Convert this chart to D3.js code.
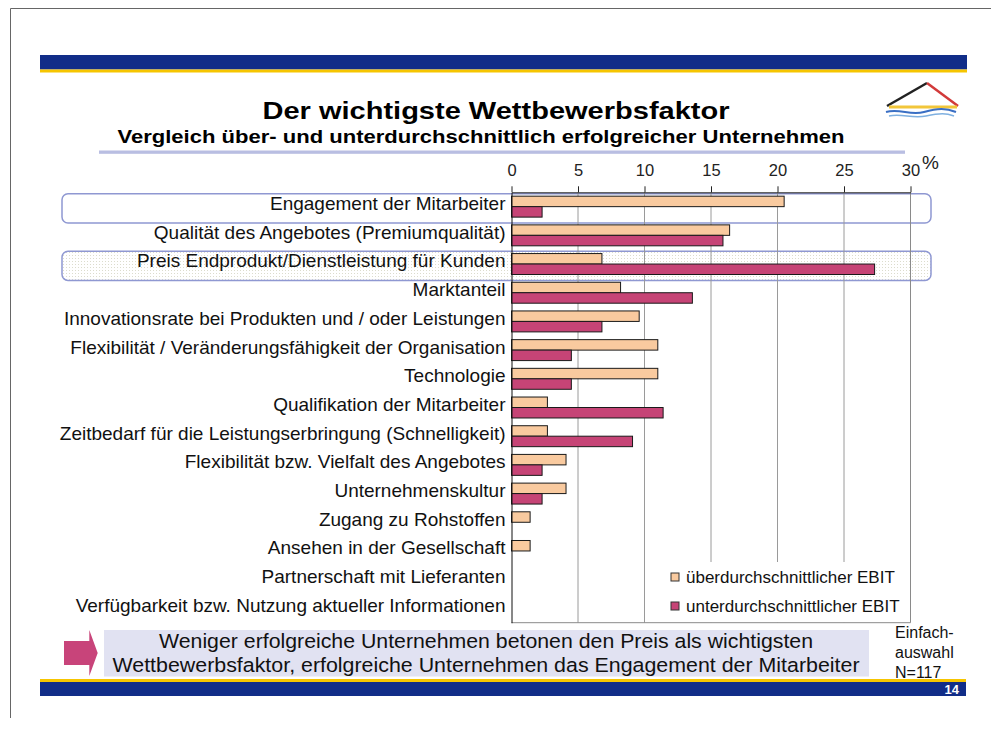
<!DOCTYPE html>
<html>
<head>
<meta charset="utf-8">
<script src="https://cdn.jsdelivr.net/npm/d3@7"></script>
<style>
  body { margin: 0; background: #fff; }
  svg { display: block; font-family: "Liberation Sans", Arial, sans-serif; }
</style>
</head>
<body>
<svg width="991" height="729"></svg>
<script>
// chart data
const categories = [
    "Engagement der Mitarbeiter",
    "Qualität des Angebotes (Premiumqualität)",
    "Preis Endprodukt/Dienstleistung für Kunden",
    "Marktanteil",
    "Innovationsrate bei Produkten und / oder Leistungen",
    "Flexibilität / Veränderungsfähigkeit der Organisation",
    "Technologie",
    "Qualifikation der Mitarbeiter",
    "Zeitbedarf für die Leistungserbringung (Schnelligkeit)",
    "Flexibilität bzw. Vielfalt des Angebotes",
    "Unternehmenskultur",
    "Zugang zu Rohstoffen",
    "Ansehen in der Gesellschaft",
    "Partnerschaft mit Lieferanten",
    "Verfügbarkeit bzw. Nutzung aktueller Informationen"
]
const aboveAvg = [20.5, 16.4, 6.8, 8.2, 9.6, 11.0, 11.0, 2.7, 2.7, 4.1, 4.1, 1.4, 1.4, 0, 0]
const belowAvg = [2.3, 15.9, 27.3, 13.6, 6.8, 4.5, 4.5, 11.4, 9.1, 2.3, 2.3, 0, 0, 0, 0]
const seriesNames = ["überdurchschnittlicher EBIT", "unterdurchschnittlicher EBIT"]
const seriesColors = ["#f9ca9f", "#c64476"]
const xTicks = [0, 5, 10, 15, 20, 25, 30]
const highlighted = ["Engagement der Mitarbeiter", "Preis Endprodukt/Dienstleistung für Kunden"]

const title = "Der wichtigste Wettbewerbsfaktor"
const subtitle = "Vergleich über- und unterdurchschnittlich erfolgreicher Unternehmen"
const conclusion = [
    "Weniger erfolgreiche Unternehmen betonen den Preis als wichtigsten",
    "Wettbewerbsfaktor, erfolgreiche Unternehmen das Engagement der Mitarbeiter"
]
const note = ["Einfach-", "auswahl", "N=117"]
const pageNo = "14"

const svg = d3.select("svg")
const navy = "#112d88"
const gold = "#f6c500"

// page frame
svg.append("path")
    .attr("d", "M10.5,718 V8.5 H991")
    .attr("fill", "none")
    .attr("stroke", "#666")
    .attr("stroke-width", 1)

// header + footer bands
svg.append("rect").attr("x", 40).attr("y", 55).attr("width", 927).attr("height", 14.5).attr("fill", navy)
svg.append("rect").attr("x", 40).attr("y", 69.5).attr("width", 927).attr("height", 3).attr("fill", gold)
svg.append("rect").attr("x", 40).attr("y", 679).attr("width", 926).attr("height", 3).attr("fill", gold)
svg.append("rect").attr("x", 40).attr("y", 682).attr("width", 926).attr("height", 14).attr("fill", navy)
svg.append("text")
    .attr("x", 959).attr("y", 694)
    .attr("text-anchor", "end")
    .attr("font-size", 13).attr("font-weight", "bold")
    .attr("fill", "#fff")
    .text(pageNo)

// logo
let logo = svg.append("g")
logo.append("path").attr("d", "M887,106 L927,83").attr("stroke", "#222").attr("stroke-width", 2.5).attr("fill", "none")
logo.append("path").attr("d", "M927,83 L958,106").attr("stroke", "#d23a3a").attr("stroke-width", 2.5).attr("fill", "none")
logo.append("path").attr("d", "M889,107 H957").attr("stroke", "#f2c63a").attr("stroke-width", 3).attr("fill", "none")
logo.append("path").attr("d", "M886,112 C900,108 910,116 924,112 S946,108 956,112").attr("stroke", "#3a6fc4").attr("stroke-width", 2).attr("fill", "none")
logo.append("path").attr("d", "M889,116 C902,113 912,119 926,116 S946,113 954,116").attr("stroke", "#7fb0e0").attr("stroke-width", 1.5).attr("fill", "none")

// titles
svg.append("text")
    .attr("x", 496).attr("y", 119)
    .attr("text-anchor", "middle")
    .attr("font-size", 23.5).attr("font-weight", "bold")
    .attr("textLength", 467).attr("lengthAdjust", "spacingAndGlyphs")
    .text(title)
svg.append("text")
    .attr("x", 481).attr("y", 142.5)
    .attr("text-anchor", "middle")
    .attr("font-size", 17.5).attr("font-weight", "bold")
    .attr("textLength", 727).attr("lengthAdjust", "spacingAndGlyphs")
    .text(subtitle)
svg.append("rect").attr("x", 99).attr("y", 150.5).attr("width", 806).attr("height", 3.3).attr("fill", "#b9bee2")

// scales
const x = d3.scaleLinear().domain([0, 30]).range([511.5, 910.5])
const y = d3.scaleBand().domain(categories).range([192.3, 622.7]).paddingInner(0.27).paddingOuter(0.135)
const ySub = d3.scaleBand().domain(seriesNames).range([0, y.bandwidth()])

// dotted pattern for the price box
let defs = svg.append("defs")
let pat = defs.append("pattern")
    .attr("id", "dots")
    .attr("width", 3).attr("height", 3)
    .attr("patternUnits", "userSpaceOnUse")
pat.append("rect").attr("width", 3).attr("height", 3).attr("fill", "#fff")
pat.append("rect").attr("width", 1).attr("height", 1).attr("fill", "#dcdccd")

// highlight boxes
svg.append("g").selectAll("rect")
    .data(highlighted)
    .enter().append("rect")
    .attr("x", 62)
    .attr("y", d => y(d) - y.step() * y.paddingOuter() + 1.5)
    .attr("width", 869)
    .attr("height", y.step() + 0.5)
    .attr("rx", 6)
    .attr("fill", (d, i) => i === 1 ? "url(#dots)" : "#fff")
    .attr("stroke", "#8f98d2")
    .attr("stroke-width", 1.5)

// grid
svg.append("g").selectAll("line")
    .data(xTicks.slice(1, -1))
    .enter().append("line")
    .attr("x1", d => x(d)).attr("x2", d => x(d))
    .attr("y1", y.range()[0]).attr("y2", y.range()[1])
    .attr("stroke", "#9a9a9a")
    .attr("stroke-width", 1)

// legend box hides part of the grid
svg.append("rect")
    .attr("x", 656).attr("y", 562)
    .attr("width", x(30) - 656).attr("height", y.range()[1] - 562)
    .attr("fill", "#fff")

// plot frame
svg.append("line")
    .attr("x1", x(30)).attr("x2", x(30))
    .attr("y1", y.range()[0]).attr("y2", y.range()[1])
    .attr("stroke", "#8a8a8a")
svg.append("line")
    .attr("x1", x(0)).attr("x2", x(30))
    .attr("y1", y.range()[1]).attr("y2", y.range()[1])
    .attr("stroke", "#8a8a8a")

// bars
const rows = categories.map((c, i) => ({ cat: c, values: [aboveAvg[i], belowAvg[i]] }))
let groups = svg.append("g")
    .selectAll("g")
    .data(rows)
    .enter().append("g")
    .attr("transform", d => `translate(0,${y(d.cat)})`)

groups.selectAll("rect")
    .data(d => d.values.map((v, k) => ({ v: v, s: seriesNames[k], k: k })).filter(e => e.v > 0))
    .enter().append("rect")
    .attr("x", x(0))
    .attr("y", d => ySub(d.s))
    .attr("width", d => x(d.v) - x(0))
    .attr("height", ySub.bandwidth())
    .attr("fill", d => seriesColors[d.k])
    .attr("stroke", "#1a1a1a")
    .attr("stroke-width", 1)

// axes
let xAxis = svg.append("g")
    .attr("transform", `translate(0,${y.range()[0]})`)
    .call(d3.axisTop(x).tickValues(xTicks).tickSize(6).tickPadding(10.6).tickSizeOuter(0))
xAxis.select(".domain").attr("stroke", "#222")
xAxis.selectAll(".tick line").attr("stroke", "#222")
xAxis.selectAll("text")
    .attr("font-family", "Liberation Sans, Arial, sans-serif")
    .attr("font-size", 16.5)
    .attr("fill", "#222")

svg.append("text")
    .attr("x", 922).attr("y", 169)
    .attr("font-size", 19)
    .attr("fill", "#222")
    .text("%")

let yAxis = svg.append("g")
    .attr("transform", `translate(${x(0)},0)`)
    .call(d3.axisLeft(y).tickSize(0).tickPadding(6))
yAxis.select(".domain").attr("stroke", "#111")
yAxis.selectAll("text")
    .attr("font-family", "Liberation Sans, Arial, sans-serif")
    .attr("font-size", 19)
    .attr("fill", "#111")
    .attr("dy", "0.18em")

// legend
let legend = svg.append("g")
    .selectAll("g")
    .data(seriesNames)
    .enter().append("g")
    .attr("transform", (d, i) => `translate(671,${573 + i * 29})`)
legend.append("rect")
    .attr("width", 8).attr("height", 8)
    .attr("fill", (d, i) => seriesColors[i])
    .attr("stroke", "#333")
legend.append("text")
    .attr("x", 15).attr("y", 4)
    .attr("dy", "0.35em")
    .attr("font-size", 17)
    .attr("fill", "#111")
    .text(d => d)

// conclusion box
svg.append("rect")
    .attr("x", 104).attr("y", 630)
    .attr("width", 765).attr("height", 46.5)
    .attr("fill", "#e1e2f2")
svg.append("path")
    .attr("d", "M64,641 H89.3 V630 L97.7,653 L89.3,676 V665 H64 Z")
    .attr("fill", "#c8447a")
svg.append("g").selectAll("text")
    .data(conclusion)
    .enter().append("text")
    .attr("x", 486)
    .attr("y", (d, i) => 648.3 + i * 23.4)
    .attr("text-anchor", "middle")
    .attr("font-size", 20.5)
    .attr("fill", "#111")
    .attr("textLength", (d, i) => i === 0 ? 654 : 747)
    .attr("lengthAdjust", "spacingAndGlyphs")
    .text(d => d)

svg.append("g").selectAll("text")
    .data(note)
    .enter().append("text")
    .attr("x", 895)
    .attr("y", (d, i) => 638 + i * 20)
    .attr("font-size", 16)
    .attr("fill", "#111")
    .text(d => d)
</script>
</body>
</html>
